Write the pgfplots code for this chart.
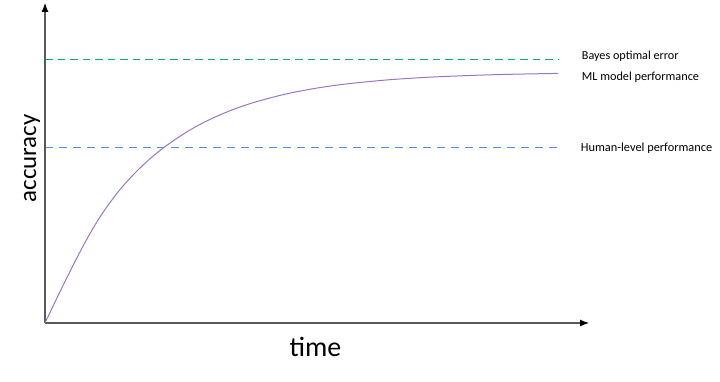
\documentclass[border=0pt]{standalone}
\usepackage{fontspec}
\setmainfont{Carlito}
\usepackage{pgfplots}
\pgfplotsset{compat=1.18}
\usetikzlibrary{arrows.meta}
\definecolor{axgray}{RGB}{89,89,89}
\definecolor{bayesgreen}{RGB}{0,176,100}
\definecolor{humanblue}{RGB}{80,140,215}
\definecolor{mlpurple}{RGB}{154,118,194}
\begin{document}
\begin{tikzpicture}
\begin{axis}[
  width=720bp, height=381bp, scale only axis,
  xmin=0, xmax=720, ymin=0, ymax=381, y dir=reverse,
  hide axis, clip=false,
]
\path[draw=none] (axis cs:0,0) rectangle (axis cs:720,381);
% reference lines
\addplot[color=bayesgreen, line width=1.6bp, dash pattern=on 7.5bp off 5bp, mark=none] coordinates {(45,59.5) (559,59.5)};
\addplot[color=humanblue, line width=1.2bp, dash pattern=on 8bp off 6bp, mark=none] coordinates {(45,147.3) (559,147.3)};
% axes
\addplot[color=axgray, line width=1.1bp, mark=none, -{Latex[length=9bp,width=7bp,color=black]}] coordinates {(45,323) (45,3)};
\addplot[color=axgray, line width=1.1bp, mark=none, -{Latex[length=9bp,width=7bp,color=black]}] coordinates {(45,323) (589,323)};
% ML model curve
\addplot[color=mlpurple, line width=1bp, smooth, mark=none] coordinates {
 (45,323) (55,302) (65,281.5) (75,261.5) (85,242.5) (95,225) (105,209.5)
 (120,189.5) (135,173) (150,158.7) (165,146.7) (185,133) (205,121.8)
 (230,110.7) (255,102.1) (285,94.2) (315,88.4) (345,84.1) (385,80.1)
 (425,77.4) (475,75.3) (515,74.2) (558,73.4)};
% labels
\node[anchor=base west, inner sep=0pt, font=\fontsize{12.2}{14}\selectfont] at (axis cs:581.7,59.5) {Bayes optimal error};
\node[anchor=base west, inner sep=0pt, font=\fontsize{12.3}{14}\selectfont] at (axis cs:581.7,80.5) {ML model performance};
\node[anchor=base west, inner sep=0pt, font=\fontsize{12.4}{14}\selectfont] at (axis cs:580.7,151.5) {Human-level performance};
\node[rotate=90, anchor=base, inner sep=0pt, font=\fontsize{25}{28}\selectfont] at (axis cs:36,158.3) {accuracy};
\node[anchor=base, inner sep=0pt, font=\fontsize{28}{32}\selectfont] at (axis cs:315.5,356) {time};
\end{axis}
\end{tikzpicture}
\end{document}
